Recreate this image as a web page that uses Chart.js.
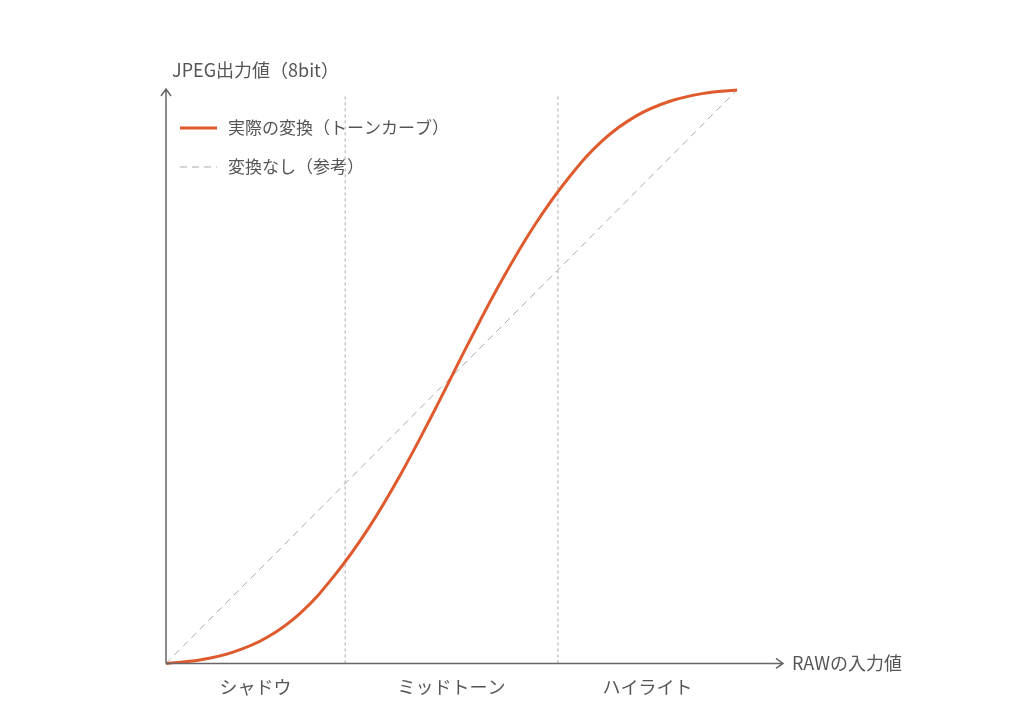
<!DOCTYPE html>
<html lang="ja">
<head>
  <meta charset="UTF-8" />
  <title>トーンカーブ</title>
  <script src="https://cdn.jsdelivr.net/npm/chart.js"></script>
  <style>
    html, body { margin: 0; padding: 0; background: #fff; }
    #wrap { width: 1024px; height: 723px; }
  </style>
</head>
<body>
<div id="wrap"><canvas id="toneChart" width="1024" height="723"></canvas></div>

<script>
  // RAW input (x) vs JPEG output (y), 0-255
  const curveX = [0, 15, 30, 45, 60, 75, 90, 105, 120, 135, 150, 165, 180, 195, 210, 225, 240, 255];
  const curveY = [0, 1.5, 5, 11.5, 22.4, 38.8, 59.5, 84.5, 112.7, 142.3, 170.5, 195.5, 216.2, 232.6, 243.5, 250, 253.5, 255];
  const refX = [0, 255];
  const refY = [0, 255];
  const zoneBounds = [80, 175];
  const zoneCenters = [40, 127.5, 215];
  const zoneLabels = ['シャドウ', 'ミッドトーン', 'ハイライト'];
  const seriesNames = ['実際の変換（トーンカーブ）', '変換なし（参考）'];
  const yTitle = 'JPEG出力値（8bit）';
  const xTitle = 'RAWの入力値';

  const FONT = '"Noto Sans CJK JP", "Noto Sans", sans-serif';
  const TEXT = '#555';
  const AXIS = '#666';
  const ORANGE = '#df5a2d';

  const pts = (xs, ys) => xs.map((x, i) => ({ x, y: ys[i] }));

  const dividerSets = zoneBounds.map(b => ({
    data: [{ x: b, y: 0 }, { x: b, y: 253 }],
    borderColor: '#aaa',
    borderWidth: 1,
    borderDash: [3, 3],
    pointRadius: 0,
    fill: false
  }));

  // axes with arrowheads, axis titles, legend
  const decor = {
    id: 'decor',
    afterDraw(chart) {
      const { ctx, chartArea: a, scales: { x, y } } = chart;
      const x0 = x.getPixelForValue(0), y0 = y.getPixelForValue(0);
      const xEnd = a.right, yEnd = a.top - 1;
      ctx.save();
      ctx.strokeStyle = AXIS;
      ctx.lineWidth = 1.5;
      ctx.beginPath();
      ctx.moveTo(x0, y0); ctx.lineTo(xEnd, y0);
      ctx.moveTo(xEnd - 7, y0 - 5); ctx.lineTo(xEnd, y0); ctx.lineTo(xEnd - 7, y0 + 5);
      ctx.moveTo(x0, y0); ctx.lineTo(x0, yEnd);
      ctx.moveTo(x0 - 5, yEnd + 7); ctx.lineTo(x0, yEnd); ctx.lineTo(x0 + 5, yEnd + 7);
      ctx.stroke();

      ctx.fillStyle = TEXT;
      ctx.font = '18px ' + FONT;
      ctx.textBaseline = 'middle';
      ctx.textAlign = 'left';
      ctx.fillText(yTitle, x0 + 6, a.top - 20);
      ctx.fillText(xTitle, xEnd + 9, y0);

      // legend
      ctx.font = '17px ' + FONT;
      chart.data.datasets.slice(0, 2).forEach((ds, i) => {
        const ly = a.top + 38 + i * 39;
        const lx = a.left + 14;
        ctx.strokeStyle = ds.borderColor;
        ctx.lineWidth = ds.borderWidth;
        ctx.setLineDash(ds.borderDash || []);
        ctx.beginPath();
        ctx.moveTo(lx, ly); ctx.lineTo(lx + 37, ly);
        ctx.stroke();
        ctx.setLineDash([]);
        ctx.fillText(ds.label, lx + 48, ly);
      });
      ctx.restore();
    }
  };

  new Chart(document.getElementById('toneChart'), {
    type: 'line',
    data: {
      datasets: [
        {
          label: seriesNames[0],
          data: pts(curveX, curveY),
          borderColor: ORANGE,
          borderWidth: 3,
          tension: 0.4,
          pointRadius: 0,
          fill: false,
          clip: false
        },
        {
          label: seriesNames[1],
          data: pts(refX, refY),
          borderColor: '#aaa',
          borderWidth: 1,
          borderDash: [7, 5],
          pointRadius: 0,
          fill: false
        },
        ...dividerSets
      ]
    },
    plugins: [decor],
    options: {
      responsive: false,
      animation: false,
      layout: { padding: { left: 166, right: 241, top: 90, bottom: 20 } },
      plugins: { legend: { display: false }, tooltip: { enabled: false } },
      scales: {
        x: {
          type: 'linear',
          min: 0,
          max: 275.5,
          grid: { display: false },
          border: { display: false },
          afterBuildTicks: s => { s.ticks = zoneCenters.map(v => ({ value: v })); },
          ticks: {
            padding: 5,
            color: TEXT,
            font: { family: FONT, size: 18 },
            maxRotation: 0,
            autoSkip: false,
            callback: (v, i) => zoneLabels[i]
          }
        },
        y: {
          type: 'linear',
          min: 0,
          max: 255,
          display: false
        }
      }
    }
  });
</script>
</body>
</html>
